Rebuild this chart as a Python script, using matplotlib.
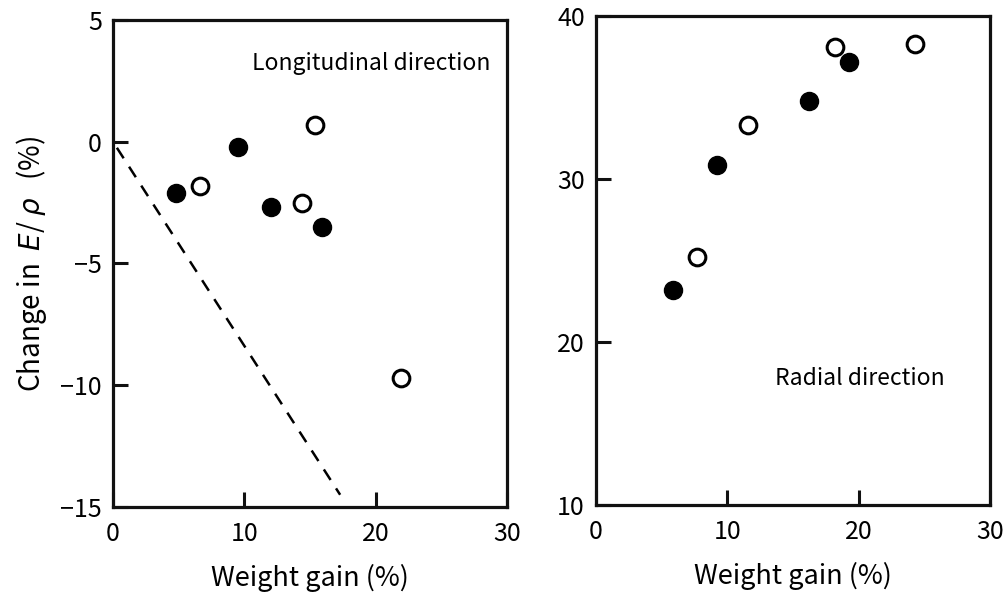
import matplotlib
matplotlib.use("Agg")
import matplotlib.pyplot as plt

plt.rcParams['font.family'] = ['Noto Sans CJK JP', 'DejaVu Sans']
plt.rcParams['axes.unicode_minus'] = True

# longitudinal direction
long_filled_x = [4.8, 9.5, 12.0, 15.9]
long_filled_y = [-2.1, -0.2, -2.7, -3.5]
long_open_x = [6.6, 14.4, 15.4, 21.9]
long_open_y = [-1.8, -2.5, 0.7, -9.7]
dash_x = [0.3, 17.3]
dash_y = [-0.25, -14.5]

# radial direction
rad_filled_x = [5.9, 9.2, 16.2, 19.3]
rad_filled_y = [23.2, 30.9, 34.8, 37.2]
rad_open_x = [7.7, 11.6, 18.2, 24.3]
rad_open_y = [25.2, 33.3, 38.1, 38.3]

fig = plt.figure(figsize=(10.04, 5.95), dpi=100)
ax1 = fig.add_axes([0.1125, 0.148, 0.3924, 0.8185])
ax2 = fig.add_axes([0.5936, 0.151, 0.3924, 0.8218])


def style(ax):
    for s in ax.spines.values():
        s.set_linewidth(2.3)
        s.set_color('#111111')
    ax.tick_params(direction='in', length=11, width=2.2, labelsize=18,
                   color='#111111', pad=8)
    ax.tick_params(axis='x', pad=10)


def draw(ax, fx, fy, ox, oy):
    ax.plot(fx, fy, 'o', ms=13, mfc='black', mec='black', ls='none', zorder=3)
    ax.plot(ox, oy, 'o', ms=12, mfc='white', mec='black', mew=2.2, ls='none', zorder=3)


draw(ax1, long_filled_x, long_filled_y, long_open_x, long_open_y)
ax1.plot(dash_x, dash_y, color='black', lw=1.8, ls=(0, (5, 4)))
ax1.set_xlim(0, 30)
ax1.set_ylim(-15, 5)
ax1.set_xticks([0, 10, 20, 30])
ax1.set_yticks([-15, -10, -5, 0, 5])
ax1.set_xlabel('Weight gain (%)', fontsize=19.5, labelpad=12)
ax1.set_ylabel('Change in  $\\it{E}$/ $\\it{\\rho}$   (%)', fontsize=20, labelpad=8)
ax1.text(10.6, 3.2, 'Longitudinal direction', fontsize=16.5, ha='left', va='center')
style(ax1)

draw(ax2, rad_filled_x, rad_filled_y, rad_open_x, rad_open_y)
ax2.set_xlim(0, 30)
ax2.set_ylim(10, 40)
ax2.set_xticks([0, 10, 20, 30])
ax2.set_yticks([10, 20, 30, 40])
ax2.set_xlabel('Weight gain (%)', fontsize=19.5, labelpad=12)
ax2.text(13.6, 17.8, 'Radial direction', fontsize=16.5, ha='left', va='center')
style(ax2)

fig.savefig('out.png', dpi=100)
